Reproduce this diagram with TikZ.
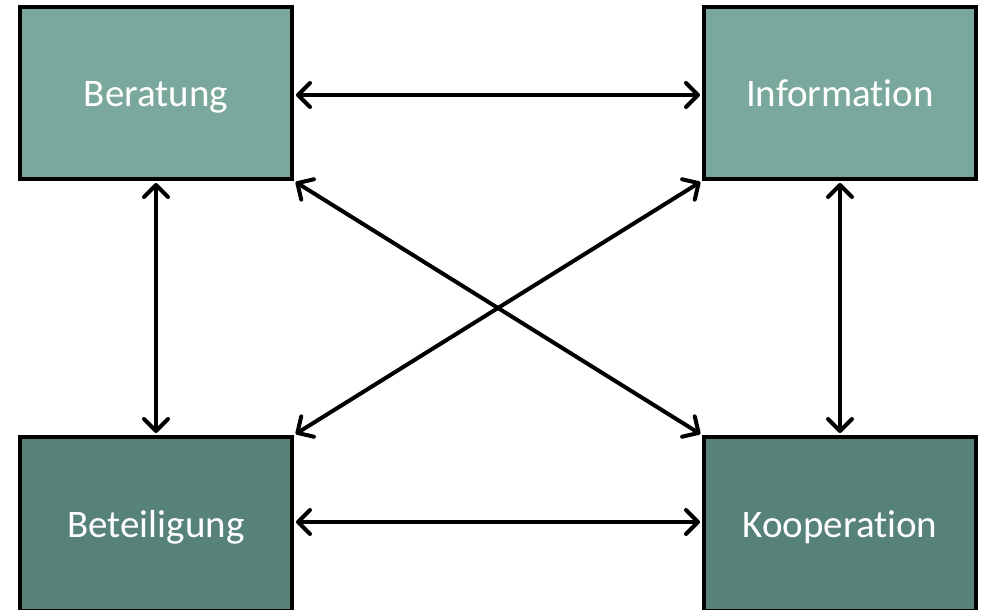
\documentclass[tikz,border=0pt]{standalone}
\usepackage{fontspec}
\setmainfont{Carlito}[Ligatures={NoCommon}]
\usetikzlibrary{arrows.meta}
\definecolor{topfill}{RGB}{123,168,156}
\definecolor{botfill}{RGB}{87,130,121}
\tikzset{
  box/.style={draw=black, line width=4pt, minimum width=272pt, minimum height=172pt,
    inner sep=0pt, text=white, text height=26pt, text depth=0pt,
    font=\fontsize{39}{46}\selectfont},
  conn/.style={line width=4pt, {Straight Barb[length=12pt,width=24pt,line join=round,line cap=round]}-{Straight Barb[length=12pt,width=24pt,line join=round,line cap=round]}, shorten <=2pt, shorten >=2pt}
}
\begin{document}
\begin{tikzpicture}[x=1pt,y=-1pt]
\useasboundingbox (0,0) rectangle (982,610);
\node[box, fill=topfill] (ber) at (156,93) {Beratung};
\node[box, fill=topfill] (inf) at (840,93) {Information};
\node[box, fill=botfill, minimum height=174pt] (bet) at (156,524) {Beteiligung};
\node[box, fill=botfill, minimum height=174pt] (koo) at (840,524) {Kooperation};
\draw[conn] (ber.east |- 0,95) -- (inf.west |- 0,95);
\draw[conn] (bet.east |- 0,522) -- (koo.west |- 0,522);
\draw[conn] (ber.south) -- (bet.north);
\draw[conn] (inf.south) -- (koo.north);
\draw[conn] (ber.south east) -- (koo.north west);
\draw[conn] (inf.south west) -- (bet.north east);
\end{tikzpicture}
\end{document}
